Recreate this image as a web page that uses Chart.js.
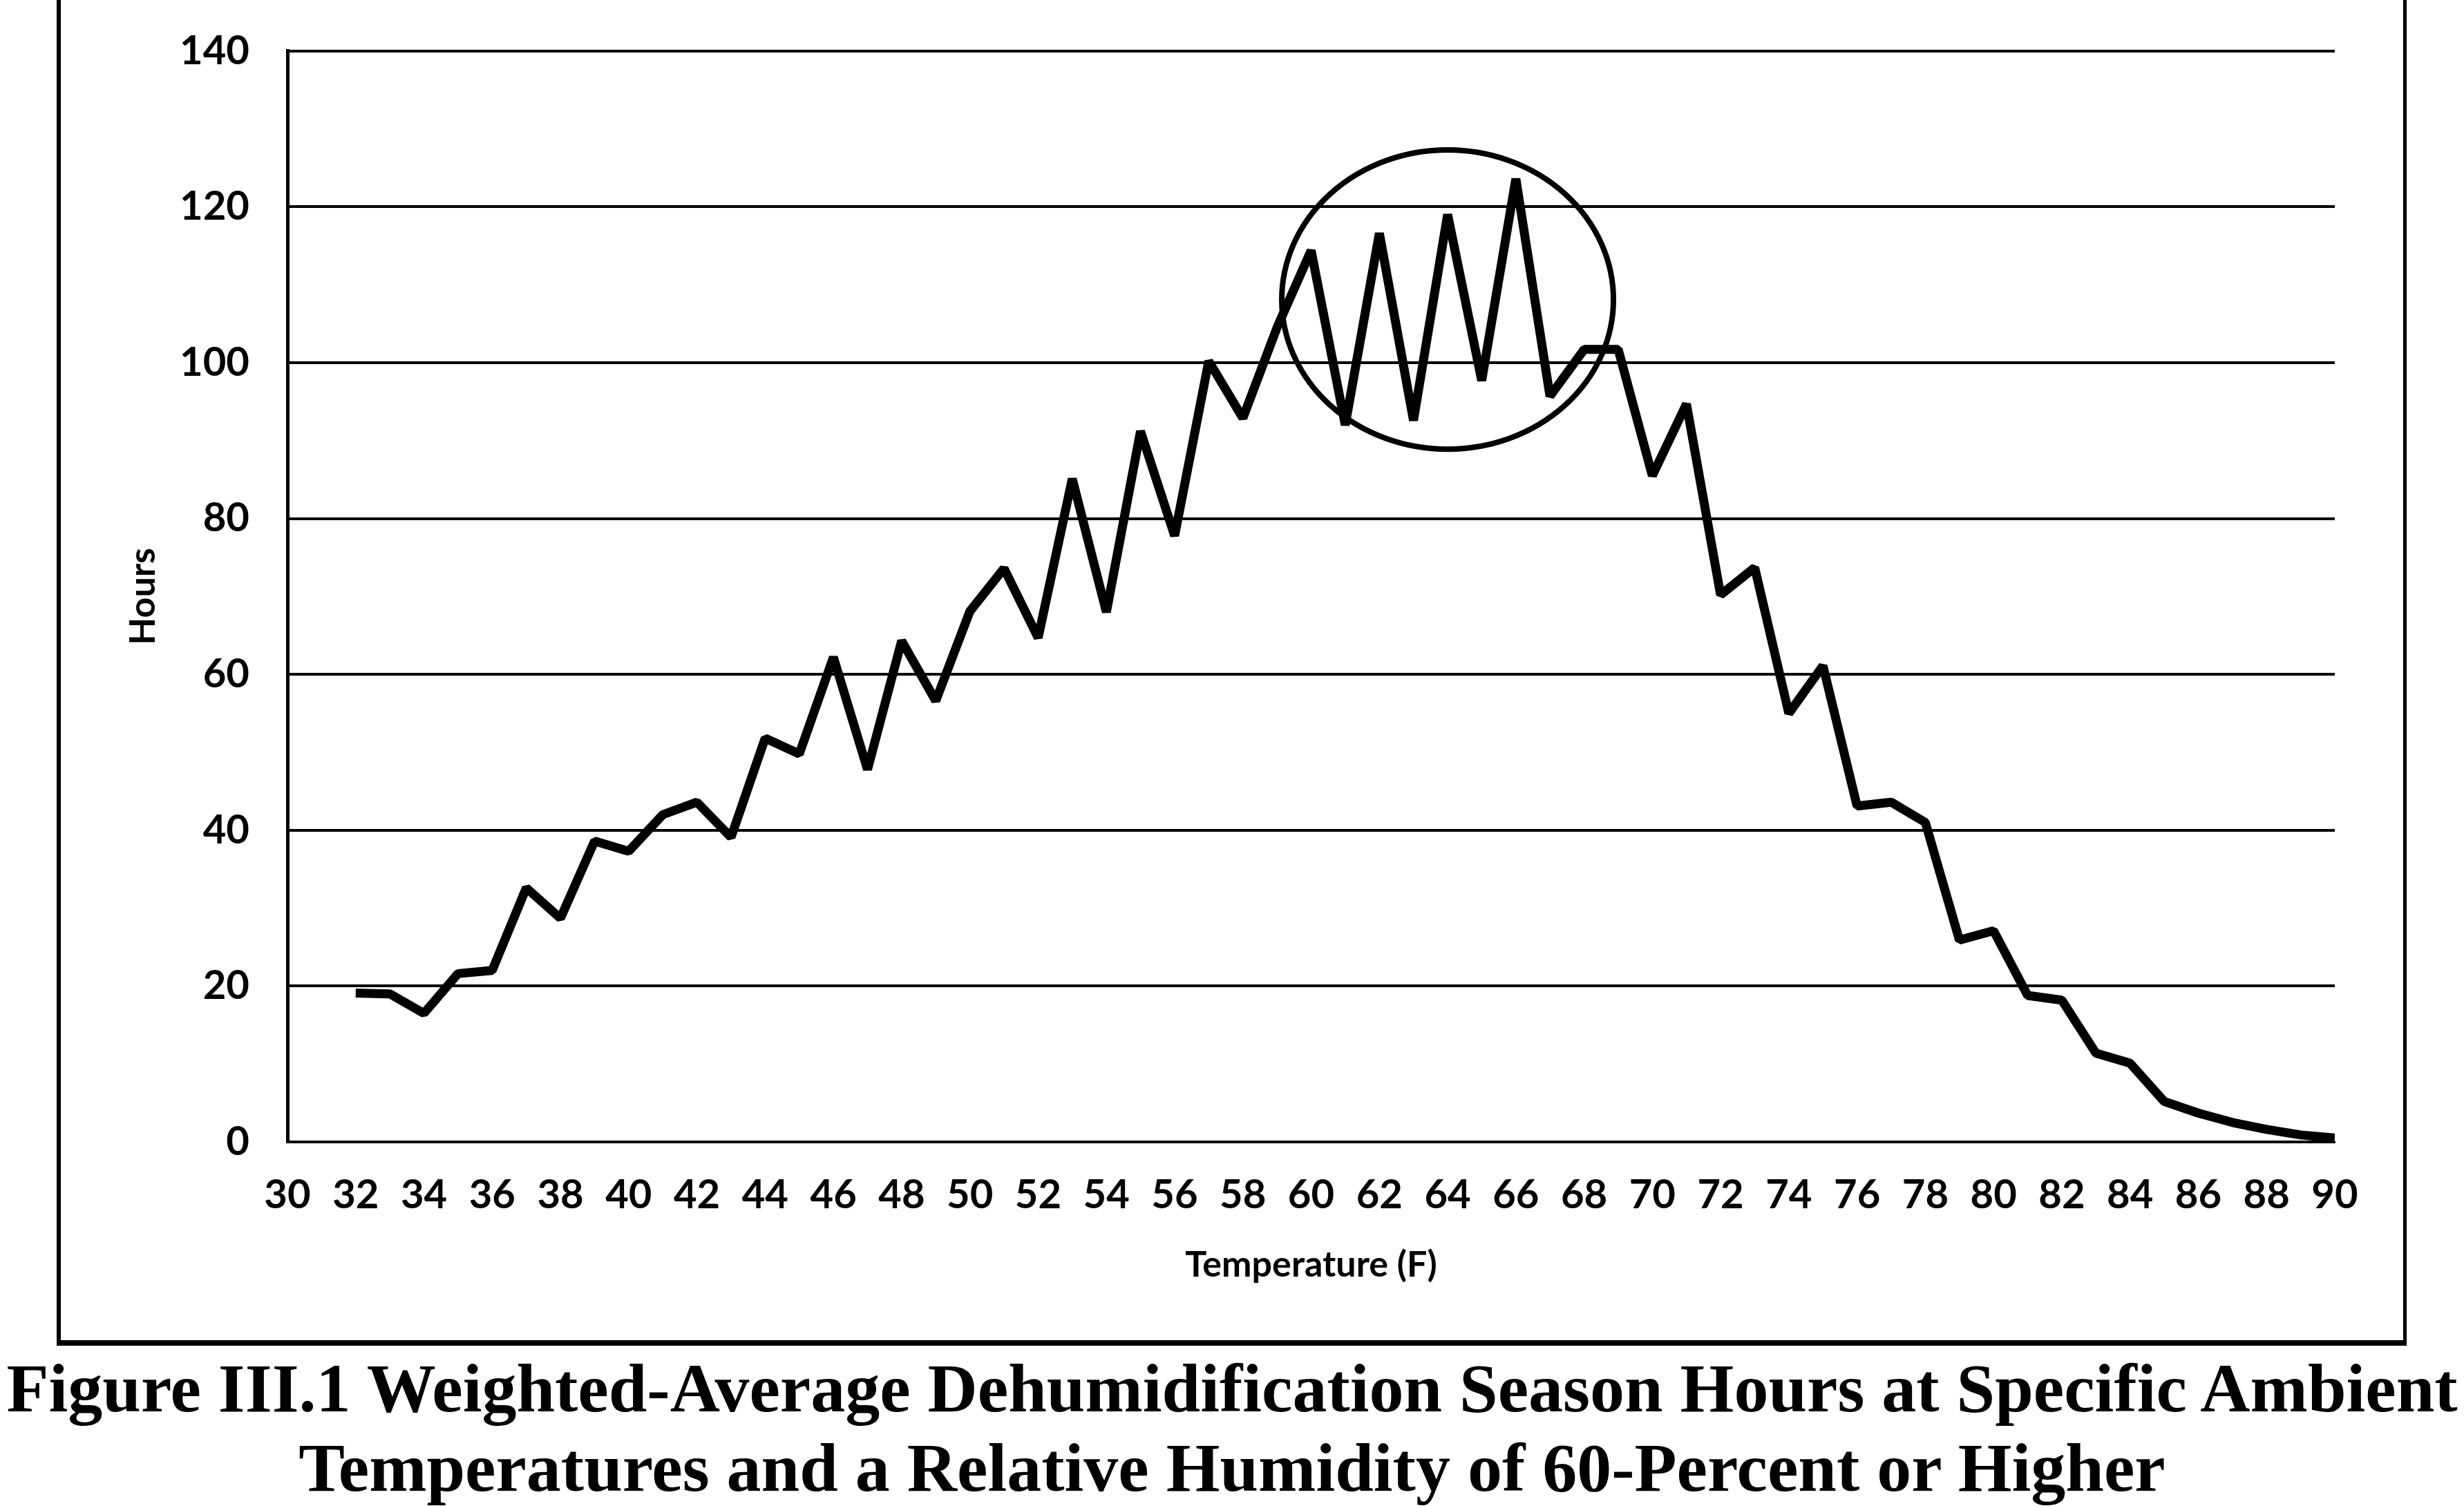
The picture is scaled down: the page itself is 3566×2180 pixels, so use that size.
<!DOCTYPE html>
<html>
<head>
<meta charset="utf-8">
<script src="https://cdn.jsdelivr.net/npm/chart.js@4/dist/chart.umd.min.js"></script>
<style>
  html, body { margin: 0; padding: 0; background: #fff; }
  body { width: 3566px; height: 2180px; position: relative; overflow: hidden; }
  #frame {
    position: absolute; left: 82px; top: -20px; width: 3390px; height: 1960px;
    border-left: 6px solid #000; border-right: 5px solid #000; border-bottom: 8px solid #000;
  }
  #chart { position: absolute; left: 0; top: -16px; }
  #caption {
    position: absolute; left: 0; top: 1952px; width: 3566px;
    display: flex; flex-direction: column; align-items: center;
    font-family: "Liberation Serif", "Times New Roman", serif; font-weight: bold;
    font-size: 100px; line-height: 115px; color: #000; white-space: nowrap;
  }
</style>
</head>
<body>
<div id="frame"></div>
<canvas id="chart" width="3566" height="1916"></canvas>
<div id="caption">
  <span>Figure III.1 Weighted-Average Dehumidification Season Hours at Specific Ambient</span>
  <span>Temperatures and a Relative Humidity of 60-Percent or Higher</span>
</div>
<script>
// temperature (F) and weighted-average hours
const temps = [32, 33, 34, 35, 36, 37, 38, 39, 40, 41, 42, 43, 44, 45, 46, 47, 48, 49, 50,
  51, 52, 53, 54, 55, 56, 57, 58, 59, 60, 61, 62, 63, 64, 65, 66, 67, 68, 69, 70,
  71, 72, 73, 74, 75, 76, 77, 78, 79, 80, 81, 82, 83, 84, 85, 86, 87, 88, 89, 90];
const hours = [19.1, 19.0, 16.5, 21.6, 22.0, 32.6, 28.7, 38.6, 37.3, 42.0, 43.6, 39.1, 51.8, 49.8, 62.2, 47.8, 64.3, 56.6, 68.1,
  73.6, 64.7, 85.1, 68.0, 91.2, 77.8, 100.2, 92.9, 104.5, 114.4, 92.0, 116.6, 92.6, 119.0, 97.7, 123.6, 95.7, 101.7, 101.7, 85.5,
  94.7, 70.2, 73.7, 55.0, 61.1, 43.1, 43.6, 41.0, 25.9, 27.1, 18.8, 18.2, 11.4, 10.1, 5.2, 3.7, 2.5, 1.6, 0.9, 0.5];

// highlight ellipse around the oscillating peak (data units)
const ellipseCenter = [64.0, 108.1];
const ellipseRadii = [4.86, 19.2];

// canvas sits 16px above the page top
const plotLeft = 416, plotRight = 3379, plotBottom = 1653 + 16, canvasHeight = 1916;
const tickFont = { family: "Lato", weight: "bold", size: 58 };

const ellipsePlugin = {
  id: "ellipse",
  afterDatasetsDraw(chart) {
    const { ctx, scales: { x, y } } = chart;
    const cx = x.getPixelForValue(ellipseCenter[0]);
    const cy = y.getPixelForValue(ellipseCenter[1]);
    const rx = Math.abs(x.getPixelForValue(ellipseCenter[0] + ellipseRadii[0]) - cx);
    const ry = Math.abs(y.getPixelForValue(ellipseCenter[1] + ellipseRadii[1]) - cy);
    ctx.save();
    ctx.beginPath();
    ctx.ellipse(cx, cy, rx, ry, 0, 0, Math.PI * 2);
    ctx.lineWidth = 8;
    ctx.strokeStyle = "#000";
    ctx.stroke();
    ctx.restore();
  }
};

new Chart(document.getElementById("chart"), {
  type: "line",
  data: {
    datasets: [{
      data: temps.map((t, i) => ({ x: t, y: hours[i] })),
      borderColor: "#000",
      borderWidth: 13,
      borderJoinStyle: "bevel",
      pointRadius: 0,
      tension: 0,
      fill: false
    }]
  },
  options: {
    responsive: false,
    devicePixelRatio: 1,
    animation: false,
    layout: { padding: { left: 0, right: 3566 - plotRight, top: 40, bottom: 0 } },
    plugins: { legend: { display: false }, tooltip: { enabled: false } },
    scales: {
      x: {
        type: "linear",
        min: 30, max: 90,
        afterFit: (s) => { s.height = canvasHeight - plotBottom; },
        ticks: { stepSize: 2, autoSkip: false, maxRotation: 0, color: "#000", font: tickFont, padding: 42 },
        grid: { display: false, drawTicks: false },
        border: { display: true, color: "#000", width: 3 },
        title: { display: true, text: "Temperature (F)", color: "#000",
          font: { family: "Lato", weight: "bold", size: 52 }, padding: { top: 0, bottom: 38 } }
      },
      y: {
        min: 0, max: 140,
        afterFit: (s) => { s.width = plotLeft; },
        ticks: { stepSize: 20, color: "#000", font: tickFont, padding: 55 },
        grid: { color: "#000", lineWidth: 4, drawTicks: false },
        border: { display: true, color: "#000", width: 5 },
        title: { display: true, text: "Hours", color: "#000",
          font: { family: "Lato", weight: "bold", size: 52 }, padding: { top: 176, bottom: 0 } }
      }
    }
  },
  plugins: [ellipsePlugin]
});
</script>
</body>
</html>
